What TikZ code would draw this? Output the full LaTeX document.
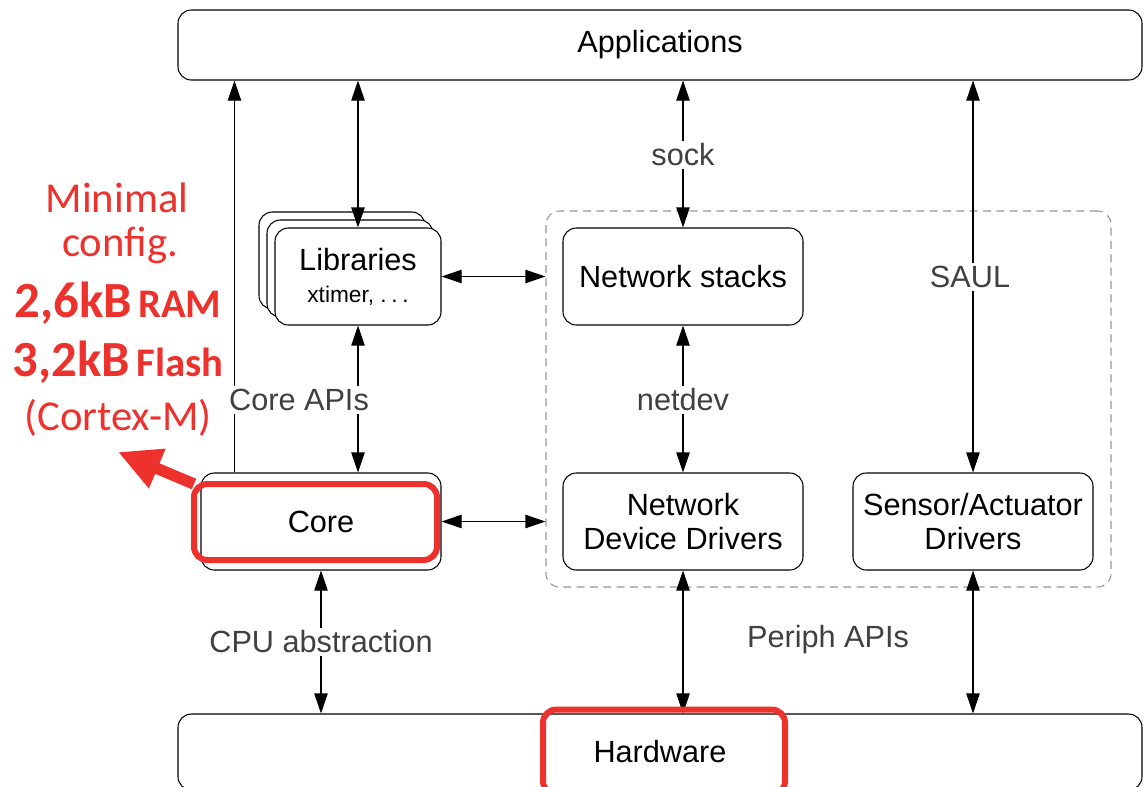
\documentclass[tikz,border=0pt]{standalone}
\usepackage{fontspec}
\setmainfont{Liberation Sans}
\newfontfamily\notefont{Carlito}
\usetikzlibrary{arrows.meta,calc}
\definecolor{hlred}{RGB}{237,50,45}
\definecolor{labelgray}{RGB}{64,64,64}
\definecolor{groupgray}{RGB}{150,150,150}
\begin{document}
\begin{tikzpicture}[x=0.75pt,y=-0.75pt,
  box/.style={draw, line width=0.8pt, rounded corners=10pt, fill=white,
    align=center, inner sep=0pt, font=\fontsize{23}{27}\selectfont},
  modbox/.style={box, minimum width=180pt, minimum height=72.75pt},
  libbox/.style={box, minimum width=124.5pt, minimum height=72.75pt},
  layerbox/.style={box, minimum width=723pt},
  groupbox/.style={draw=groupgray, line width=0.8pt, dash pattern=on 6pt off 4pt,
    rounded corners=10pt, minimum width=423.75pt, minimum height=282pt, inner sep=0pt},
  hlbox/.style={draw=hlred, line width=4.5pt, rounded corners=10pt, inner sep=0pt},
  api/.style={fill=white, text=labelgray, inner sep=2pt, font=\fontsize{23}{27}\selectfont},
  biarrow/.style={line width=0.8pt, {Triangle[length=15pt,width=10pt]}-{Triangle[length=15pt,width=10pt]}},
  uparrow/.style={line width=0.8pt, -{Triangle[length=15pt,width=10pt]}},
  note/.style={text=hlred, inner sep=0pt, font=\notefont\fontsize{32}{36}\selectfont},
  notebold/.style={text=hlred, inner sep=0pt, font=\notefont\bfseries}
]
\path[use as bounding box, clip] (0,0) rectangle (1144,786);

% layers
\node[layerbox, minimum height=52.5pt] (apps) at (660,45) {Applications};
\node[layerbox, minimum height=57pt] (hw) at (660,752) {Hardware};

% dashed group of network and sensor drivers
\node[groupbox] (grp) at (828.5,399) {};

% libraries, drawn as a stack of three cards
\node[libbox] (lib3) at (342,260.5) {};
\node[libbox] (lib2) at (350,268.5) {};
\node[libbox] (lib) at (358,276.5) {Libraries\\[-3pt]{\fontsize{17}{20}\selectfont xtimer,\ .\kern3.5pt.\kern3.5pt.}};

% modules
\node[modbox] (core) at (321,521.5) {Core};
\node[modbox] (net) at (683,276.5) {Network stacks};
\node[modbox] (ndd) at (683,521.5) {Network\\[-1pt]Device Drivers};
\node[modbox] (sad) at (973,521.5) {Sensor/Actuator\\[-1pt]Drivers};

% interfaces
\coordinate (corel) at ($(core.north west)+(34,0)$);
\draw[uparrow] (corel) -- (apps.south -| corel);
\draw[biarrow] (apps.south -| lib.north) -- (lib.north);
\draw[biarrow] (lib.south) -- (lib.south |- core.north);
\draw[biarrow] (lib.east) -- (grp.west |- lib.east);
\draw[biarrow] (core.east) -- (grp.west |- core.east);
\draw[biarrow] (apps.south -| net.north) -- (net.north);
\draw[biarrow] (net.south) -- (ndd.north);
\draw[biarrow] (apps.south -| sad.north) -- (sad.north);
\draw[biarrow] (core.south) -- (hw.north -| core.south);
\draw[biarrow] (ndd.south) -- (hw.north -| ndd.south);
\draw[biarrow] (sad.south) -- (hw.north -| sad.south);

% interface labels
\node[api] (sock) at (683,155) {sock};
\node[api] (netdev) at (683,400) {netdev};
\node[api] (saul) at (970,277) {SAUL};
\node[api] (coreapi) at (299,400) {Core APIs};
\node[api] (cpuabs) at (321,642) {CPU abstraction};
\node[api] (periph) at (828,640) {Periph APIs};

% highlights
\node[hlbox, minimum width=182.25pt, minimum height=57pt] (coremark) at (315.5,522) {};
\node[hlbox, minimum width=181.5pt, minimum height=63.75pt] (hwmark) at (664,752) {};

% memory footprint note
\node[note] (n1) at (117,198) {Minimal};
\node[note] (n2) at (120,245) {config.};
\node[notebold] (n3) at (118,303) {{\fontsize{38}{40}\selectfont 2,6kB}\hspace{5pt}{\fontsize{30.5}{34}\selectfont RAM}};
\node[notebold] (n4) at (118,362) {{\fontsize{38}{40}\selectfont 3,2kB}\hspace{5pt}{\fontsize{30.5}{34}\selectfont Flash}};
\node[note] (n5) at (118,418) {(Cortex-M)};
\coordinate (notetip) at (118,452);
\draw[hlred, line width=8.5pt, -{Triangle[length=32pt,width=30pt]}]
  ($(coremark.north west)+(3,3)$) -- (notetip);
\end{tikzpicture}
\end{document}
